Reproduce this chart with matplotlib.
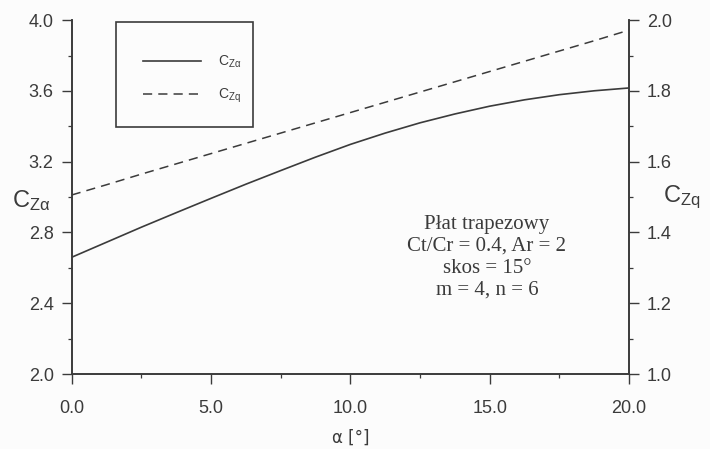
import numpy as np
import matplotlib.pyplot as plt
from matplotlib.patches import Rectangle
from matplotlib.ticker import MultipleLocator

# data
alpha = [0.0, 1.25, 2.5, 3.75, 5.0, 6.25, 7.5, 8.75, 10.0,
         11.25, 12.5, 13.75, 15.0, 16.25, 17.5, 18.75, 20.0]
c_za = [2.660, 2.745, 2.830, 2.912, 2.993, 3.073, 3.150, 3.226, 3.298,
        3.362, 3.420, 3.470, 3.514, 3.550, 3.579, 3.601, 3.617]
c_zq = [1.506, 1.535, 1.565, 1.594, 1.623, 1.652, 1.681, 1.710, 1.739,
        1.768, 1.797, 1.826, 1.855, 1.884, 1.913, 1.942, 1.972]

x_ticks = [0.0, 5.0, 10.0, 15.0, 20.0]
left_ticks = [2.0, 2.4, 2.8, 3.2, 3.6, 4.0]
right_ticks = [1.0, 1.2, 1.4, 1.6, 1.8, 2.0]

ink = '#3b3b3b'
sans = 'Liberation Sans'
serif = 'Liberation Serif'

plt.rcParams['font.family'] = sans
plt.rcParams['mathtext.fontset'] = 'custom'
plt.rcParams['mathtext.rm'] = sans
plt.rcParams['mathtext.it'] = sans

fig = plt.figure(figsize=(7.1, 4.49), dpi=100, facecolor='#fcfcfc')
ax = fig.add_axes([0.101, 0.167, 0.785, 0.788])
ax.set_facecolor('#fcfcfc')
ax2 = ax.twinx()

l1, = ax.plot(alpha, c_za, color=ink, lw=1.2, label=r'$\mathregular{C_{Z\alpha}}$')
l2, = ax2.plot(alpha, c_zq, color=ink, lw=1.1, dashes=(6, 4), label=r'$\mathregular{C_{Zq}}$')

ax.set_xlim(0, 20)
ax.set_ylim(2.0, 4.0)
ax2.set_ylim(1.0, 2.0)

ax.set_xticks(x_ticks)
ax.set_xticklabels(['%.1f' % v for v in x_ticks])
ax.set_yticks(left_ticks)
ax.set_yticklabels(['%.1f' % v for v in left_ticks])
ax2.set_yticks(right_ticks)
ax2.set_yticklabels(['%.1f' % v for v in right_ticks])
ax.xaxis.set_minor_locator(MultipleLocator(2.5))
ax.yaxis.set_minor_locator(MultipleLocator(0.2))
ax2.yaxis.set_minor_locator(MultipleLocator(0.1))

for a in (ax, ax2):
    a.spines['top'].set_visible(False)
    for s in a.spines.values():
        s.set_color(ink)
        s.set_linewidth(1.2)
    a.tick_params(which='major', length=7, width=1.0, color=ink, labelcolor=ink, labelsize=13, pad=6)
    a.tick_params(which='minor', length=3, width=0.9, color=ink)
ax.tick_params(axis='x', which='major', pad=12)

# axis titles
ax.text(-0.072, 0.49, r'$\mathregular{C_{Z\alpha}}$', transform=ax.transAxes,
        ha='center', va='center', fontsize=17, color=ink)
ax.text(1.095, 0.50, r'$\mathregular{C_{Zq}}$', transform=ax.transAxes,
        ha='center', va='center', fontsize=17, color=ink)
ax.set_xlabel('\u03b1 [\u00b0]', fontsize=12, color=ink, family=['DejaVu Sans'], labelpad=8)

# legend box
ax.add_patch(Rectangle((0.079, 0.698), 0.246, 0.296, transform=ax.transAxes,
                       fill=False, edgecolor=ink, lw=1.2, zorder=5))
leg = ax.legend(handles=[l1, l2], loc='upper left', bbox_to_anchor=(0.105, 0.94),
                frameon=False, fontsize=10, handlelength=4.2, handletextpad=1.2,
                labelspacing=1.2, labelcolor=ink)

ax.text(0.745, 0.33, 'P\u0142at trapezowy\nCt/Cr = 0.4, Ar = 2\nskos = 15\u00b0\nm = 4, n = 6',
        transform=ax.transAxes, ha='center', va='center', family=serif,
        fontsize=15, color=ink, linespacing=1.2)

fig.savefig('out.png', dpi=100, facecolor=fig.get_facecolor())
